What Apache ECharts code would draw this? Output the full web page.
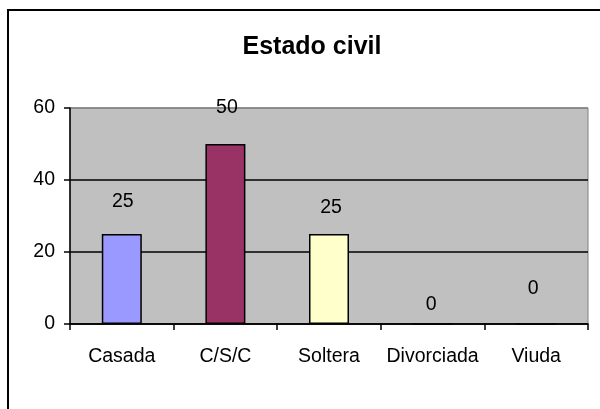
<!DOCTYPE html>
<html>
<head>
<meta charset="utf-8">
<script src="https://cdn.jsdelivr.net/npm/echarts@6/dist/echarts.min.js"></script>
<style>
html,body{margin:0;padding:0;background:#fff;}
#chart{width:600px;height:409px;}
</style>
</head>
<body>
<div id="chart"></div>
<script>
const categories = ['Casada', 'C/S/C', 'Soltera', 'Divorciada', 'Viuda'];
const values = [25, 50, 25, 0, 0];
const yTicks = [0, 20, 40, 60];

// styling (not data)
const barColors = ['#9999FF', '#993366', '#FFFFCC', '#9999FF', '#9999FF'];
const labelDistance = [22, 26, 16, 9, 25];
const labelShiftX = [1, 1.5, 2, -1.5, -3];

const FONT = '"Liberation Sans", Arial, sans-serif';
const FS = 19.5;
const chart = echarts.init(document.getElementById('chart'), null, {renderer: 'canvas'});

chart.setOption({
  animation: false,
  backgroundColor: '#fff',
  title: {
    text: 'Estado civil',
    left: 307, top: 30,
    textAlign: 'center',
    textStyle: {fontFamily: FONT, fontSize: 25, fontWeight: 'bold', color: '#000'}
  },
  graphic: [{
    type: 'rect', silent: true, z: -1,
    shape: {x: 8, y: 10, width: 700, height: 500},
    style: {fill: null, stroke: '#000', lineWidth: 2}
  }],
  grid: {
    left: 70, top: 108, right: 12, bottom: 85,
    show: true, backgroundColor: '#C0C0C0', borderColor: '#808080', borderWidth: 1
  },
  xAxis: {
    type: 'category',
    data: categories,
    axisLine: {lineStyle: {color: '#000', width: 1.5}},
    axisTick: {show: true, length: 6, lineStyle: {color: '#000', width: 1.5}},
    axisLabel: {margin: 23, fontFamily: FONT, fontSize: FS, color: '#000', interval: 0},
    splitLine: {show: false}
  },
  yAxis: {
    type: 'value',
    min: yTicks[0], max: yTicks[yTicks.length - 1], interval: 20,
    axisLine: {show: true, lineStyle: {color: '#000', width: 1.5}},
    axisTick: {show: true, length: 6, lineStyle: {color: '#000', width: 1.5}},
    axisLabel: {margin: 15, fontFamily: FONT, fontSize: FS, color: '#000'},
    splitLine: {show: true, lineStyle: {color: ['#000', '#000', '#000', '#808080'], width: 1.5}}
  },
  series: [{
    type: 'bar',
    barWidth: 40,
    data: values.map((v, i) => ({
      value: v,
      itemStyle: {color: barColors[i]},
      label: {distance: labelDistance[i], offset: [labelShiftX[i], 0]}
    })),
    itemStyle: {borderColor: '#000', borderWidth: 1.5},
    label: {show: true, position: 'top', fontFamily: FONT, fontSize: FS, color: '#000'}
  }]
});
</script>
</body>
</html>
